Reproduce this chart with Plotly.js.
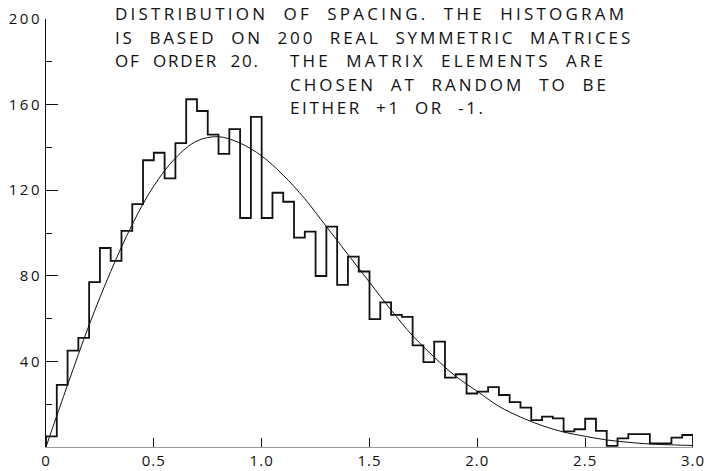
<!DOCTYPE html>
<html>
<head>
<meta charset="utf-8">
<script src="https://cdn.plot.ly/plotly-3.0.1.min.js"></script>
<style>
html,body{margin:0;padding:0;background:#fff;}
#chart{width:704px;height:471px;}
#chart .ytick text{letter-spacing:2.5px;}
#chart .xtick text{letter-spacing:1px;}
</style>
</head>
<body>
<div id="chart"></div>
<script>
// Histogram: counts per bin of width 0.05 from 0 to 3.0
const binStart = 0;
const binWidth = 0.05;
const counts = [
  5, 29, 45, 51, 77, 93, 87, 101, 113.5, 134,
  137.5, 125.5, 142, 162.5, 157, 146, 137, 148.5, 107, 154.3,
  107, 118.8, 114.6, 97.8, 100.6, 79.9, 103, 75.8, 89, 82,
  59.8, 67.6, 61.7, 60.8, 47.5, 39.7, 49.2, 32.4, 34, 25,
  25.9, 28, 24.3, 21, 18.4, 12.6, 14.2, 13.4, 7.3, 8.3,
  13.2, 7.5, 0.5, 4, 6, 6, 1.7, 1.7, 4.4, 5.6
];
// Smooth theoretical curve
const curveX = [0,0.1,0.2,0.3,0.4,0.5,0.6,0.7,0.8,0.9,1.0,1.1,1.2,1.3,1.4,1.5,1.6,1.7,1.8,1.9,2.0,2.1,2.2,2.3,2.4,2.5,2.6,2.7,2.8,2.9,3.0];
const curveY = [0,29,57,82,104,122,135,143,145,142,136,127,116,103,90,77,64,52,42,33,26,19,14,10,7,5,3.3,2.2,1.4,1,0.7];

const xTickVals = [0,0.5,1.0,1.5,2.0,2.5,3.0];
const xTickText = ['0','0.5','1.0','1.5','2.0','2.5','3.0'];
const yTickVals = [40,80,120,160,200];
const yMinorVals = [20,60,100,140,180];

// caption pieces
const captionText = [
  'DISTRIBUTION  OF  SPACING.  THE  HISTOGRAM',
  'IS  BASED  ON  200  REAL  SYMMETRIC  MATRICES',
  'OF  ORDER  20.',
  'THE  MATRIX  ELEMENTS  ARE',
  'CHOSEN  AT  RANDOM  TO  BE',
  'EITHER  +1  OR  -1.'
];
const captionCol = [0, 0, 0, 1, 1, 1];
const captionRow = [0, 1, 2, 2, 3, 4];
// lettered width of each caption piece in the reference (px), used for letter spacing
const captionWidth = [509, 515, 143, 313, 316, 193];

// build step outline
const hx = [binStart], hy = [0];
for (let i = 0; i < counts.length; i++) { hx.push(binStart + i*binWidth); hy.push(counts[i]); }
const xEnd = binStart + counts.length*binWidth;
hx.push(xEnd); hy.push(counts[counts.length-1]);
hx.push(xEnd); hy.push(0);

const FONT = 'Open Sans, Liberation Sans, sans-serif';

const traces = [
  {x: hx, y: hy, type: 'scatter', mode: 'lines', line: {shape: 'hv', color: '#111', width: 1.8}, hoverinfo: 'skip'},
  {x: curveX, y: curveY, type: 'scatter', mode: 'lines', line: {shape: 'spline', smoothing: 1, color: '#111', width: 1}, hoverinfo: 'skip'}
];

const colX = [0.311, 1.124];
const ann = [];
for (let i = 0; i < captionText.length; i++) {
  ann.push({text: captionText[i], xref: 'x', yref: 'paper', x: colX[captionCol[i]], y: 1.012 - captionRow[i]*0.0549,
    xanchor: 'left', yanchor: 'middle', align: 'left', showarrow: false,
    font: {family: FONT, size: 17, color: '#111', weight: 400}});
}

const layout = {
  width: 704, height: 471,
  margin: {l: 46, r: 11, t: 19, b: 24},
  paper_bgcolor: '#fff', plot_bgcolor: '#fff',
  showlegend: false,
  font: {family: FONT, color: '#111'},
  xaxis: {range: [0, 3], showgrid: false, zeroline: false, showline: true, linecolor: '#999', linewidth: 1,
    tickmode: 'array', tickvals: xTickVals, ticktext: xTickText, ticks: 'inside', ticklen: 9, tickcolor: '#111', tickwidth: 1,
    tickfont: {family: FONT, size: 15, color: '#111'}, fixedrange: true},
  yaxis: {range: [0, 200], showgrid: false, zeroline: false, showline: true, linecolor: '#111', linewidth: 1,
    tickmode: 'array', tickvals: yTickVals, ticks: 'inside', ticklen: 12, tickcolor: '#111', tickwidth: 1,
    minor: {tickmode: 'array', tickvals: yMinorVals, ticks: 'inside', ticklen: 6, tickcolor: '#111', tickwidth: 1},
    tickfont: {family: FONT, size: 15, color: '#111'}, fixedrange: true},
  annotations: ann
};

Plotly.newPlot('chart', traces, layout, {displayModeBar: false, staticPlot: true}).then(function(gd){
  // widen lettering so each caption piece spans the same width as in the reference
  const texts = gd.querySelectorAll('.annotation-text');
  texts.forEach(function(t, i){
    if (i >= captionWidth.length) return;
    const n = t.textContent.length;
    const w = t.getComputedTextLength();
    const ls = Math.max(0, (captionWidth[i] - w) / (n - 1));
    t.style.letterSpacing = ls.toFixed(2) + 'px';
  });
});
</script>
</body>
</html>
